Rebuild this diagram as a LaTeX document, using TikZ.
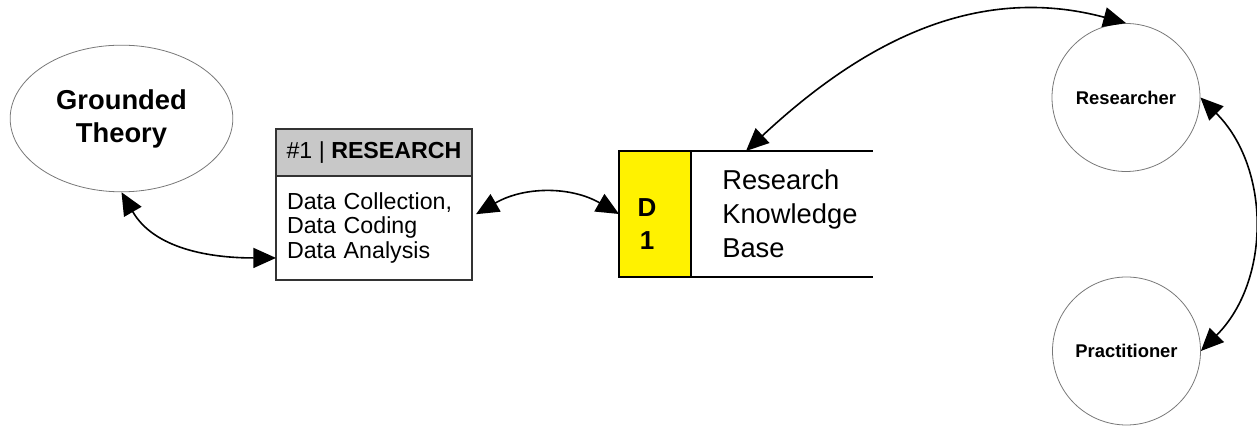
\documentclass[tikz,border=0pt]{standalone}
\usepackage{fontspec}
\setmainfont{Liberation Sans}
\usetikzlibrary{shapes.geometric,arrows.meta}
\definecolor{hdrgray}{RGB}{200,200,200}
\definecolor{rimgray}{RGB}{120,120,120}

\begin{document}
\begin{tikzpicture}[x=0.75pt,y=0.75pt,
    actor/.style={circle, draw=rimgray, line width=0.6pt, minimum size=111pt, inner sep=0pt,
        font=\fontsize{13.8}{16}\selectfont\bfseries},
    procbox/.style={draw=black!80, line width=0.9pt, minimum width=147pt, outer sep=0pt,
        font=\fontsize{17.4}{18.5}\selectfont},
    flow/.style={{Triangle[length=17pt,width=15pt]}-{Triangle[length=17pt,width=15pt]}, line width=1.2pt}]

\useasboundingbox (0,0) rectangle (1257,427);

% theory
\node[ellipse, draw=rimgray, line width=0.6pt, minimum width=167pt, minimum height=110pt, inner sep=0pt,
    align=center, font=\fontsize{20.5}{24.75}\selectfont\bfseries] (gt) at (121.5,308.5) {Grounded\\Theory};

% process #1
\node[procbox, fill=hdrgray, minimum height=35.25pt] (hdr) at (374,274.5) {\#1 | \textbf{RESEARCH}};
\node[procbox, anchor=north, minimum height=78pt, text width=130.5pt, inner xsep=8.25pt, align=left]
    (body) at (hdr.south) {Data Collection,\\Data Coding\\Data Analysis};

% data store D1
\node[minimum width=190.5pt, minimum height=94.5pt, inner sep=0pt, outer sep=0pt] (kb) at (746,213) {};
\node[draw, fill=yellow, line width=1.6pt, anchor=west, minimum width=54pt, minimum height=94.5pt,
    inner sep=0pt, outer sep=0pt] (d1) at (kb.west) {};
\node[font=\fontsize{19.5}{24.75}\selectfont\bfseries, align=center, inner sep=0pt] (d1id) at (647,202.5) {D\\1};
\node[anchor=west, inner sep=0pt, align=left, font=\fontsize{20.5}{25.5}\selectfont] (kbtext) at (722,213.5)
    {Research\\Knowledge\\Base};
\draw[line width=2pt] (kb.north west) -- (kb.north east)
                      (kb.south west) -- (kb.south east);

% external entities
\node[actor] (rsr) at (1126,329.5) {Researcher};
\node[actor] (prc) at (1126.5,76) {Practitioner};

% flows
\draw[flow] (gt.south) to[out=-60,in=180] (body.197);
\draw[flow] ([xshift=3pt]body.8) to[bend left=30] (kb.west);
\draw[flow] (kb.north) to[out=43,in=165] (rsr.north);
\draw[flow] (rsr.east) to[bend left=45] (prc.east);
\end{tikzpicture}
\end{document}
